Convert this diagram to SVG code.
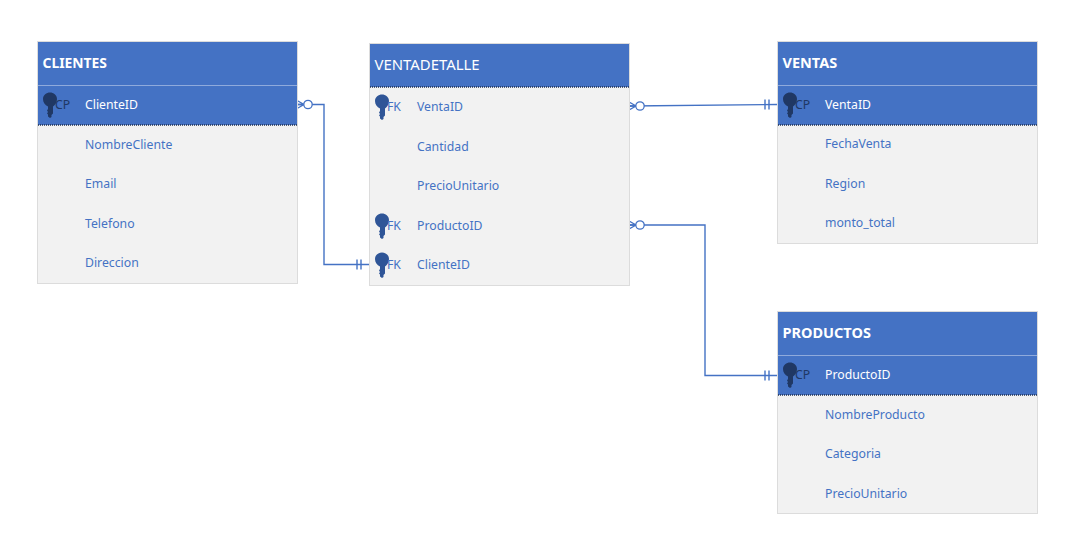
<svg xmlns="http://www.w3.org/2000/svg" width="1075" height="537" viewBox="0 0 1075 537">
<style>
text{font-family:"Noto Sans","Open Sans","Liberation Sans",sans-serif;font-size:12.25px;dominant-baseline:central}
.body{fill:#f2f2f2;stroke:#dcdcdc;stroke-width:1}
.head{fill:#4472c4}
.hline{stroke:#8faadc;stroke-width:1}
.dots{stroke:#1f2f50;stroke-width:1.5;stroke-dasharray:1 1}
.title{fill:#fff;font-size:14.5px;font-weight:700}
.title.reg{font-weight:400;font-size:14.9px}
.row{fill:#4472c4}
.pk{fill:#fff}
.tag{fill:#4472c4}
.tagpk{fill:#203864}
.conn{stroke:#4472c4;stroke-width:1.4;fill:none}
.ring{stroke:#4472c4;stroke-width:1.3;fill:#fff}
</style>
<defs>
<path id="key" d="M-7 -5C-7 -9 -3.500 -11.500 0 -11.500C3.500 -11.500 7 -9 7 -5C7 -1.500 5 1 3 2.500L3 9.500L1.500 11L1.500 13L0 14L-2 12.500L-2 10.500L-3 9.500L-2 8L-3 6.500L-2 5L-2 2.500C-5 1 -7 -1.500 -7 -5Z"/>
<g id="many" class="conn"><path d="M0 -4L7 0L0 4M0 0H7"/></g>
<g id="one" class="conn"><path d="M0 -5V5M4 -5V5"/></g>
</defs>

<g id="connectors">
<path class="conn" d="M298 104.500H324V264.500H369"/>
<path class="conn" d="M630 106L777 104.500"/>
<path class="conn" d="M630 225H705V375.500H777"/>
<use href="#many" transform="translate(297 104.500)"/>
<circle class="ring" cx="308" cy="104.500" r="4.200"/>
<use href="#one" transform="translate(357 264.500)"/>
<use href="#many" transform="translate(629 106)"/>
<circle class="ring" cx="640" cy="106" r="4.200"/>
<use href="#one" transform="translate(765 104.500)"/>
<use href="#many" transform="translate(629 225)"/>
<circle class="ring" cx="640" cy="225" r="4.200"/>
<use href="#one" transform="translate(765 375.500)"/>
</g>

<g id="clientes">
<rect class="body" x="37.500" y="41.500" width="260" height="242"/>
<rect class="head" x="38" y="42" width="259" height="83"/>
<line class="hline" x1="38" y1="85.500" x2="297" y2="85.500"/>
<line class="dots" x1="38" y1="125" x2="297" y2="125"/>
<text class="title" x="42.500" y="61.500" textLength="64.500" lengthAdjust="spacingAndGlyphs">CLIENTES</text>
<use href="#key" x="50" y="104" fill="#203864"/>
<text class="tagpk" x="55" y="104.500">CP</text>
<text class="pk" x="85" y="104.500">ClienteID</text>
<text class="row" x="85" y="144.500">NombreCliente</text>
<text class="row" x="85" y="183.500">Email</text>
<text class="row" x="85" y="223.500">Telefono</text>
<text class="row" x="85" y="262.500">Direccion</text>
</g>

<g id="ventadetalle">
<rect class="body" x="369.500" y="43.500" width="260" height="242"/>
<rect class="head" x="370" y="44" width="259" height="43"/>
<line class="dots" x1="370" y1="87" x2="629" y2="87"/>
<text class="title reg" x="374.500" y="63.500">VENTADETALLE</text>
<use href="#key" x="382" y="106" fill="#2f5597"/>
<text class="tag" x="387" y="106.500">FK</text>
<text class="row" x="417" y="106.500">VentaID</text>
<text class="row" x="417" y="146.500">Cantidad</text>
<text class="row" x="417" y="185.500">PrecioUnitario</text>
<use href="#key" x="382" y="225" fill="#2f5597"/>
<text class="tag" x="387" y="225.500">FK</text>
<text class="row" x="417" y="225.500">ProductoID</text>
<use href="#key" x="382" y="264" fill="#2f5597"/>
<text class="tag" x="387" y="264.500">FK</text>
<text class="row" x="417" y="264.500">ClienteID</text>
</g>

<g id="ventas">
<rect class="body" x="777.500" y="41.500" width="260" height="202"/>
<rect class="head" x="778" y="42" width="259" height="83"/>
<line class="hline" x1="778" y1="85.500" x2="1037" y2="85.500"/>
<line class="dots" x1="778" y1="125" x2="1037" y2="125"/>
<text class="title" x="782.500" y="61.500">VENTAS</text>
<use href="#key" x="790" y="104" fill="#203864"/>
<text class="tagpk" x="795" y="104.500">CP</text>
<text class="pk" x="825" y="104.500">VentaID</text>
<text class="row" x="825" y="143.500">FechaVenta</text>
<text class="row" x="825" y="183.500">Region</text>
<text class="row" x="825" y="222.500">monto_total</text>
</g>

<g id="productos">
<rect class="body" x="777.500" y="311.500" width="260" height="202"/>
<rect class="head" x="778" y="312" width="259" height="83"/>
<line class="hline" x1="778" y1="355.500" x2="1037" y2="355.500"/>
<line class="dots" x1="778" y1="395" x2="1037" y2="395"/>
<text class="title" x="782.500" y="331.500">PRODUCTOS</text>
<use href="#key" x="790" y="374" fill="#203864"/>
<text class="tagpk" x="795" y="374.500">CP</text>
<text class="pk" x="825" y="374.500">ProductoID</text>
<text class="row" x="825" y="414.500">NombreProducto</text>
<text class="row" x="825" y="453.500">Categoria</text>
<text class="row" x="825" y="493.500">PrecioUnitario</text>
</g>
</svg>
